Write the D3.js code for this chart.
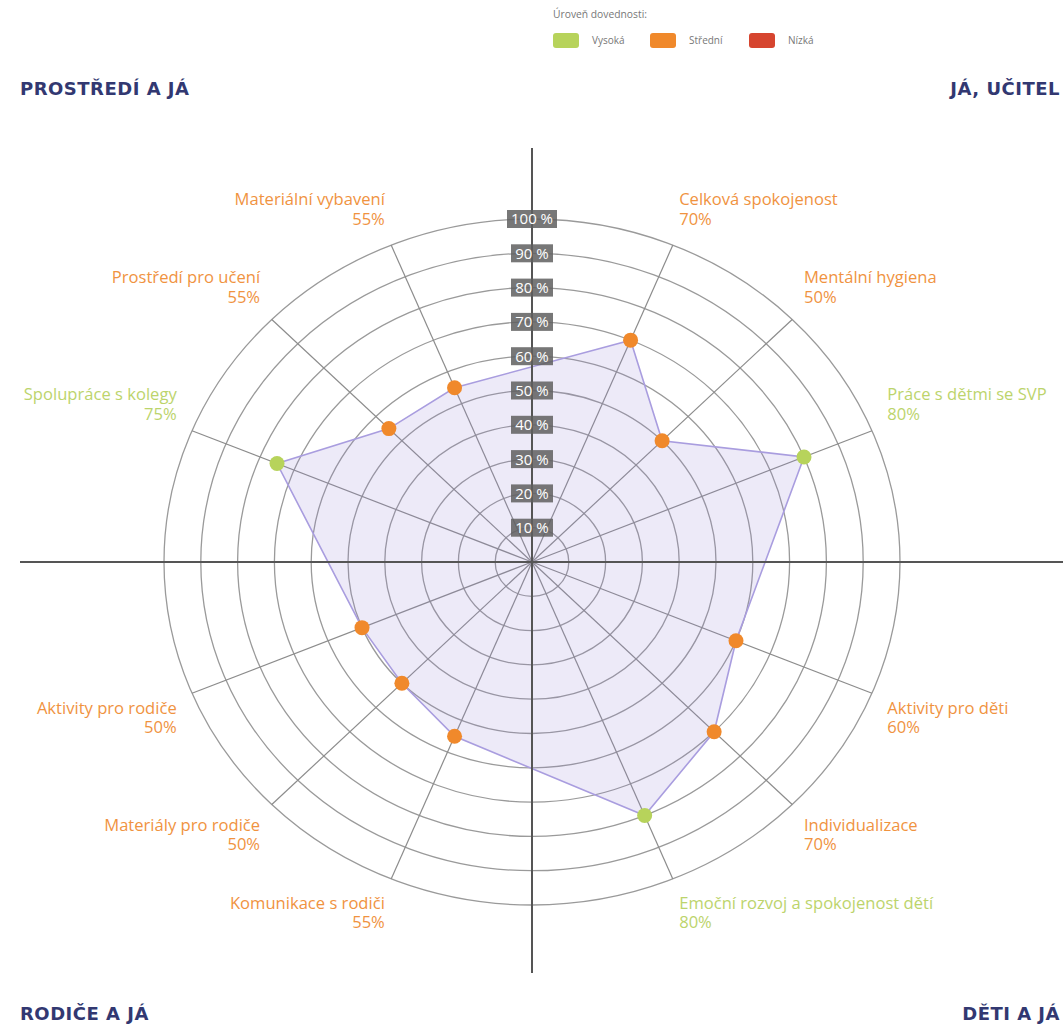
<!DOCTYPE html>
<html>
  <head>
    <meta charset="utf-8" />
    <title>Úroveň dovedností</title>
    <script src="https://d3js.org/d3.v7.min.js" charset="utf-8"></script>
    <style>
      body { margin: 0; background: #fff; }
      svg { display: block; }
    </style>
  </head>
  <body>
    <svg id="canvas" width="1063" height="1024"></svg>
    <script>
      // data
      var categories = [
        "Celková spokojenost", "Mentální hygiena", "Práce s dětmi se SVP",
        "Aktivity pro děti", "Individualizace", "Emoční rozvoj a spokojenost dětí",
        "Komunikace s rodiči", "Materiály pro rodiče", "Aktivity pro rodiče",
        "Spolupráce s kolegy", "Prostředí pro učení", "Materiální vybavení"
      ];
      var values = [70, 50, 80, 60, 70, 80, 55, 50, 50, 75, 55, 55];
      var levels = [
        "Střední", "Střední", "Vysoká",
        "Střední", "Střední", "Vysoká",
        "Střední", "Střední", "Střední",
        "Vysoká", "Střední", "Střední"
      ];
      var quadrants = ["JÁ, UČITEL", "DĚTI A JÁ", "RODIČE A JÁ", "PROSTŘEDÍ A JÁ"];
      var legendLabels = ["Vysoká", "Střední", "Nízká"];
      var legendColors = ["#b7d35b", "#f0892b", "#d6452f"];
      var textColors = ["#bcd46c", "#f0933f", "#d6452f"];
      var ringTicks = [10, 20, 30, 40, 50, 60, 70, 80, 90, 100];

      let canvas = d3.select("#canvas");

      var cx = 532, cy = 562;

      // picture is a bit wider than tall, so two radial scales
      var rx = d3.scaleLinear().domain([0, 100]).range([0, 368]);
      var ry = d3.scaleLinear().domain([0, 100]).range([0, 343]);
      // 16 slots of 22.5 degrees, data sits between the quadrant axes
      var angle = d3.scaleLinear().domain([0, 16]).range([0, 2 * Math.PI]);

      var color = d3.scaleOrdinal().domain(legendLabels).range(legendColors);
      var tcolor = d3.scaleOrdinal().domain(legendLabels).range(textColors);

      function slot(i) {
        return Math.floor(i / 3) * 4 + (i % 3) + 1;
      }
      function px(v, a) { return cx + rx(v) * Math.sin(a); }
      function py(v, a) { return cy - ry(v) * Math.cos(a); }

      var points = values.map(function (v, i) {
        var a = angle(slot(i));
        return { name: categories[i], value: v, level: levels[i], a: a, x: px(v, a), y: py(v, a) };
      });

      // rings
      canvas.append("g")
        .selectAll("ellipse")
        .data(ringTicks)
        .enter()
        .append("ellipse")
        .attr("cx", cx)
        .attr("cy", cy)
        .attr("rx", function (d) { return rx(d); })
        .attr("ry", function (d) { return ry(d); })
        .attr("fill", "none")
        .attr("stroke", "#9a9a9a")
        .attr("stroke-width", 1.3);

      // spokes
      canvas.append("g")
        .selectAll("line")
        .data(d3.range(16).filter(function (s) { return s % 4 != 0; }))
        .enter()
        .append("line")
        .attr("x1", cx)
        .attr("y1", cy)
        .attr("x2", function (s) { return px(100, angle(s)); })
        .attr("y2", function (s) { return py(100, angle(s)); })
        .attr("stroke", "#8c8c8c")
        .attr("stroke-width", 1.2);

      // polygon
      canvas.append("path")
        .datum(points)
        .attr("d", d3.line().x(function (d) { return d.x; }).y(function (d) { return d.y; }).curve(d3.curveLinearClosed))
        .attr("fill", "rgba(150, 130, 215, 0.17)")
        .attr("stroke", "#a99ddf")
        .attr("stroke-width", 1.6);

      // main axes
      canvas.append("line")
        .attr("x1", 20).attr("x2", 1063).attr("y1", cy).attr("y2", cy)
        .attr("stroke", "#555").attr("stroke-width", 2);
      canvas.append("line")
        .attr("x1", cx).attr("x2", cx).attr("y1", 148).attr("y2", 973)
        .attr("stroke", "#555").attr("stroke-width", 2);

      // ring labels
      var tickG = canvas.append("g")
        .selectAll("g")
        .data(ringTicks)
        .enter()
        .append("g")
        .attr("transform", function (d) { return "translate(" + cx + "," + (cy - ry(d)) + ")"; });
      tickG.append("rect")
        .attr("x", function (d) { return d == 100 ? -25 : -21; })
        .attr("y", -9)
        .attr("width", function (d) { return d == 100 ? 50 : 42; })
        .attr("height", 18)
        .attr("fill", "rgba(95, 95, 95, 0.85)");
      tickG.append("text")
        .text(function (d) { return d + " %"; })
        .attr("text-anchor", "middle")
        .attr("dy", "0.36em")
        .attr("fill", "#fff")
        .style("font-family", "'Open Sans', sans-serif")
        .style("font-size", "15px");

      // dots
      canvas.append("g")
        .selectAll("circle")
        .data(points)
        .enter()
        .append("circle")
        .attr("cx", function (d) { return d.x; })
        .attr("cy", function (d) { return d.y; })
        .attr("r", 7.5)
        .attr("fill", function (d) { return color(d.level); });

      // category labels (stretched a little, like the picture)
      var lab = canvas.append("g")
        .selectAll("text")
        .data(points)
        .enter()
        .append("text")
        .attr("text-anchor", function (d) { return Math.sin(d.a) > 0 ? "start" : "end"; })
        .attr("fill", function (d) { return tcolor(d.level); })
        .style("font-family", "'Open Sans', sans-serif")
        .style("font-size", "15.5px")
        .attr("transform", function (d) {
          var x = px(104.5, d.a);
          var y = py(105, d.a) + (Math.cos(d.a) > 0 ? -20 : 18);
          return "translate(" + x + "," + y + ") scale(1.07,1)";
        });
      lab.append("tspan").attr("x", 0).attr("dy", "-0.25em").text(function (d) { return d.name; });
      lab.append("tspan").attr("x", 0).attr("dy", "1.25em").text(function (d) { return d.value + "%"; });

      // quadrant titles
      var qpos = [
        { x: 1060, y: 95, anchor: "end" },
        { x: 1060, y: 1020, anchor: "end" },
        { x: 20, y: 1020, anchor: "start" },
        { x: 20, y: 95, anchor: "start" }
      ];
      canvas.append("g")
        .selectAll("text")
        .data(quadrants)
        .enter()
        .append("text")
        .text(function (d) { return d; })
        .attr("x", function (d, i) { return qpos[i].x; })
        .attr("y", function (d, i) { return qpos[i].y; })
        .attr("text-anchor", function (d, i) { return qpos[i].anchor; })
        .attr("fill", "#323871")
        .style("font-family", "'DejaVu Sans', sans-serif")
        .style("font-weight", "bold")
        .style("font-size", "18px")
        .style("letter-spacing", "0.5px");

      // legend
      var legend = canvas.append("g").attr("transform", "translate(553,0)");
      legend.append("text")
        .text("Úroveň dovednosti:")
        .attr("x", 0).attr("y", 18)
        .attr("fill", "#777")
        .style("font-family", "'Open Sans', sans-serif")
        .style("font-size", "10.3px");
      var li = legend.selectAll("g.item")
        .data(legendLabels)
        .enter()
        .append("g")
        .attr("class", "item")
        .attr("transform", function (d, i) { return "translate(" + [0, 97, 196][i] + ",33)"; });
      li.append("rect")
        .attr("width", 26).attr("height", 15).attr("rx", 3)
        .attr("fill", function (d) { return color(d); });
      li.append("text")
        .text(function (d) { return d; })
        .attr("x", 39).attr("y", 11)
        .attr("fill", "#777")
        .style("font-family", "'Open Sans', sans-serif")
        .style("font-size", "10px");
    </script>
  </body>
</html>
